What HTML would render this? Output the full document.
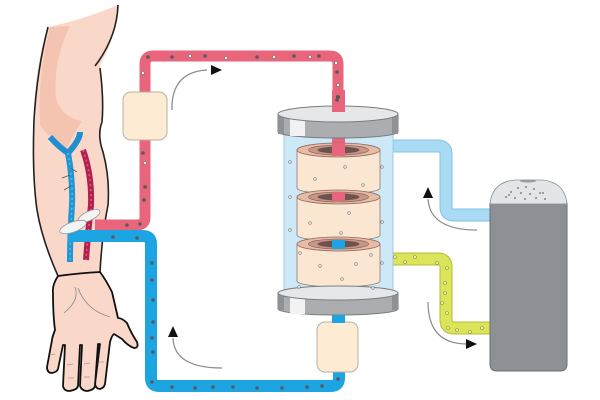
<!DOCTYPE html>
<html><head><meta charset="utf-8"><style>
html,body{margin:0;padding:0;background:#fff;}
svg{display:block;}
</style></head><body>
<svg width="600" height="400" viewBox="0 0 600 400" xmlns="http://www.w3.org/2000/svg">
<rect width="600" height="400" fill="#fff"/>
<!-- ARM -->
<path d="M48,27 Q82,20 118,5 Q117,35 100,65 Q104,100 101,125 Q97,137 104,152 Q110,178 107,205 Q102,235 100,272 Q80,274 58,276 Q46,250 40,225 Q33,190 33,140 Q33,70 48,27 Z" fill="#fad8c9"/>
<path d="M50,27 L70,26 Q53,60 56,98 Q61,117 82,121 Q73,135 67,148 Q46,136 40,125 Q37,80 50,27 Z" fill="#f5c4b0"/>
<path d="M48,27 Q37,70 34,120 Q32,175 37,210 Q42,240 58,276" fill="none" stroke="#222" stroke-width="1.6"/>
<path d="M118,5 Q117,35 98,62 L95,66" fill="none" stroke="#222" stroke-width="1.6"/>
<path d="M100,68 Q104,100 102,122 Q97,135 103,152 Q110,178 108,205 Q102,235 100,272" fill="none" stroke="#222" stroke-width="1.6"/>
<!-- vein -->
<path d="M50,137 Q60,148 68,153 Q80,140 80,132" fill="none" stroke="#1f8fd0" stroke-width="6"/>
<path d="M68,153 Q73,180 72,205 Q70,235 70,262" fill="none" stroke="#1f97d6" stroke-width="6"/>
<path d="M68,153 Q73,180 72,205 Q70,235 70,262" fill="none" stroke="#5bb8e6" stroke-width="1.5" stroke-dasharray="2 3"/>
<path d="M62,178 L70,175 M64,190 L71,186 M70,168 L77,172" stroke="#555" stroke-width="0.8"/>
<!-- artery -->
<path d="M83,150 Q92,175 91,205 Q88,232 86,260" fill="none" stroke="#b3204f" stroke-width="6"/>
<path d="M83,150 Q92,175 91,205 Q88,232 86,260" fill="none" stroke="#e0607f" stroke-width="1.5" stroke-dasharray="2 3"/>
<!-- HAND -->
<path d="M58,276 Q52,285 53,293 Q53,315 55,330 Q52,338 52,340 L47,367 Q47,373 52,373 Q57,372 58,369 L63,345 L65,345 L63,386 Q64,391 69,391 Q77,390 78,386 L80,345 L82,345 L80,386 Q82,391 87,391 Q94,390 95,386 L98,344 L100,344 L95,384 Q96,389 100,389 Q104,388 105,384 L110,342 Q112,335 114,334 L122,339 Q128,346 134,348 Q139,348 137,342 Q131,333 127,323 Q122,318 118,318 Q115,305 112,292 Q106,280 100,272 Q80,273 58,276 Z" fill="#fad8c9" stroke="#111" stroke-width="1.8" stroke-linejoin="round"/>
<path d="M75,287 Q80,300 64,313 M78,288 Q86,310 110,317" fill="none" stroke="#888" stroke-width="0.8"/>
<path d="M51,355 L55,354 M67,365 L73,364 M84,364 L90,363 M99,362 L104,362 M68,378 L74,378 M84,377 L90,377" stroke="#999" stroke-width="0.7"/>

<!-- RED TUBE -->
<path d="M95,225 H137 Q145,225 145,217 V64 Q145,56 153,56 H330 Q338,56 338,64 V114" fill="none" stroke="#e8657c" stroke-width="11"/>
<!-- BLUE TUBE -->
<path d="M68,236 H143 Q151,236 151,244 V378 Q151,386 159,386 H331 Q339,386 339,378 V360" fill="none" stroke="#1ca5e2" stroke-width="12"/>
<!-- tape -->
<ellipse cx="89" cy="216" rx="12" ry="4.5" transform="rotate(-25 89 216)" fill="#f4f4f4" stroke="#999" stroke-width="0.8"/>
<ellipse cx="73" cy="227" rx="14" ry="5" transform="rotate(-20 73 227)" fill="#f4f4f4" stroke="#999" stroke-width="0.8"/>

<!-- LIGHT BLUE TUBE -->
<path d="M392,146 H438 Q446,146 446,154 V207 Q446,215 454,215 H492" fill="none" stroke="#7fc4e6" stroke-width="13"/>
<path d="M392,146 H438 Q446,146 446,154 V207 Q446,215 454,215 H492" fill="none" stroke="#a9dbf4" stroke-width="11"/>
<!-- YELLOW TUBE -->
<path d="M392,259 H438 Q446,259 446,267 V320 Q446,328 454,328 H492" fill="none" stroke="#b5bb3a" stroke-width="13"/>
<path d="M392,259 H438 Q446,259 446,267 V320 Q446,328 454,328 H492" fill="none" stroke="#dce45a" stroke-width="11"/>

<!-- BAGS -->
<rect x="123" y="92" width="44" height="48" rx="8" fill="#fdebd3" stroke="#b9b0a2" stroke-width="1"/>
<rect x="317" y="322" width="41" height="50" rx="8" fill="#fdebd3" stroke="#b9b0a2" stroke-width="1"/>

<!-- COLUMN -->
<rect x="284" y="128" width="109" height="166" fill="#cde9f8" stroke="#9ccbe3" stroke-width="1"/>
<rect x="332" y="90" width="13" height="26" fill="#e8657c"/>
<rect x="332" y="134" width="13" height="22" fill="#e8657c"/>
<!-- top cap -->
<path d="M278,114 V132 A60,6 0 0 0 398,132 V114 Z" fill="#abadb0" stroke="#7a7c80" stroke-width="1"/>
<rect x="290" y="116" width="15" height="20" fill="#f2f2f2"/>
<rect x="278" y="116" width="6" height="18" fill="#8f9195"/>
<rect x="392" y="116" width="6" height="18" fill="#8f9195"/>
<ellipse cx="338" cy="114" rx="60" ry="8" fill="#e6e7e8" stroke="#7a7c80" stroke-width="1"/>
<rect x="332" y="90" width="13" height="22" fill="#e8657c"/>
<circle cx="338" cy="97" r="2" fill="#555"/>

<!-- DISC 1 -->
<path d="M297,150 V188 A41.5,6 0 0 0 380,188 V150 Z" fill="#fbe6d1" stroke="#8a7a70" stroke-width="0.8"/>
<ellipse cx="338.5" cy="150" rx="41.5" ry="7" fill="#e8bba6" stroke="#8a6a60" stroke-width="0.8"/>
<ellipse cx="338.5" cy="150" rx="30" ry="5" fill="#c99584" stroke="#7a5a55" stroke-width="0.6"/>
<ellipse cx="338.5" cy="150" rx="21" ry="3.5" fill="#6e524e"/>
<rect x="332" y="143" width="13" height="13" fill="#e8657c"/>
<!-- DISC 2 -->
<path d="M297,197 V235 A41.5,6 0 0 0 380,235 V197 Z" fill="#fbe6d1" stroke="#8a7a70" stroke-width="0.8"/>
<ellipse cx="338.5" cy="197" rx="41.5" ry="7" fill="#e8bba6" stroke="#8a6a60" stroke-width="0.8"/>
<ellipse cx="338.5" cy="197" rx="30" ry="5" fill="#c99584" stroke="#7a5a55" stroke-width="0.6"/>
<ellipse cx="338.5" cy="197" rx="21" ry="3.5" fill="#6e524e"/>
<rect x="332" y="192" width="13" height="9" fill="#e8657c"/>
<!-- DISC 3 -->
<path d="M297,244 V281 A41.5,6 0 0 0 380,281 V244 Z" fill="#fbe6d1" stroke="#8a7a70" stroke-width="0.8"/>
<ellipse cx="338.5" cy="244" rx="41.5" ry="7" fill="#e8bba6" stroke="#8a6a60" stroke-width="0.8"/>
<ellipse cx="338.5" cy="244" rx="30" ry="5" fill="#c99584" stroke="#7a5a55" stroke-width="0.6"/>
<ellipse cx="338.5" cy="244" rx="21" ry="3.5" fill="#6e524e"/>
<rect x="332" y="240" width="13" height="9" fill="#1ca5e2"/>
<rect x="332" y="286" width="13" height="8" fill="#1ca5e2"/>
<!-- bottom cap -->
<path d="M278,293 V309 A60,6 0 0 0 398,309 V293 Z" fill="#abadb0" stroke="#7a7c80" stroke-width="1"/>
<rect x="290" y="296" width="15" height="18" fill="#f2f2f2"/>
<rect x="278" y="295" width="6" height="15" fill="#8f9195"/>
<rect x="392" y="295" width="6" height="15" fill="#8f9195"/>
<ellipse cx="338" cy="293" rx="60" ry="7" fill="#e6e7e8" stroke="#7a7c80" stroke-width="1"/>
<rect x="332" y="315" width="13" height="8" fill="#1ca5e2"/>

<!-- GRAY CYLINDER -->
<path d="M490,203 V364 Q490,371 497,371 H560 Q567,371 567,364 V203 Z" fill="#8d9196" stroke="#6a6d72" stroke-width="1"/>
<path d="M490,204 Q492,182 515,180 H542 Q565,182 567,204 Z" fill="#e4e5e6" stroke="#8a8c90" stroke-width="0.8"/>
<ellipse cx="528" cy="181" rx="8" ry="1.5" fill="#9a9ca0"/>
<g fill="#666">
<circle cx="518" cy="188" r="0.9"/><circle cx="526" cy="187" r="0.9"/><circle cx="534" cy="189" r="0.9"/><circle cx="511" cy="192" r="0.9"/><circle cx="521" cy="193" r="0.9"/><circle cx="530" cy="194" r="0.9"/><circle cx="540" cy="193" r="0.9"/><circle cx="506" cy="197" r="0.9"/><circle cx="515" cy="198" r="0.9"/><circle cx="525" cy="199" r="0.9"/><circle cx="536" cy="198" r="0.9"/><circle cx="545" cy="199" r="0.9"/><circle cx="509" cy="195" r="0.9"/><circle cx="543" cy="193" r="0.9"/>
</g>

<!-- DOTS dark -->
<g fill="#5a5a5e">
<circle cx="148" cy="57" r="1.8"/><circle cx="172" cy="57" r="1.8"/><circle cx="205" cy="56" r="1.8"/><circle cx="257" cy="57" r="1.8"/><circle cx="294" cy="56" r="1.8"/><circle cx="319" cy="56" r="1.8"/><circle cx="337" cy="72" r="1.8"/><circle cx="337" cy="100" r="1.8"/>
<circle cx="143" cy="153" r="1.8"/><circle cx="145" cy="187" r="1.8"/><circle cx="144" cy="200" r="1.8"/><circle cx="140" cy="224" r="1.8"/><circle cx="127" cy="225" r="1.8"/>
<circle cx="113" cy="237" r="1.8"/><circle cx="137" cy="238" r="1.8"/>
<circle cx="152" cy="263" r="1.8"/><circle cx="152" cy="280" r="1.8"/><circle cx="153" cy="300" r="1.8"/><circle cx="153" cy="322" r="1.8"/><circle cx="152" cy="338" r="1.8"/><circle cx="153" cy="352" r="1.8"/><circle cx="152" cy="382" r="1.8"/>
<circle cx="172" cy="387" r="1.8"/><circle cx="195" cy="388" r="1.8"/><circle cx="213" cy="387" r="1.8"/><circle cx="233" cy="387" r="1.8"/><circle cx="257" cy="388" r="1.8"/><circle cx="282" cy="388" r="1.8"/><circle cx="307" cy="387" r="1.8"/><circle cx="322" cy="386" r="1.8"/><circle cx="338" cy="379" r="1.8"/>
</g>
<!-- DOTS light -->
<g fill="#f6f6f6" stroke="#777" stroke-width="0.6">
<circle cx="190" cy="56" r="1.5"/><circle cx="226" cy="58" r="1.5"/><circle cx="274" cy="57" r="1.5"/><circle cx="310" cy="57" r="1.5"/><circle cx="336" cy="63" r="1.5"/><circle cx="338" cy="85" r="1.5"/>
<circle cx="143" cy="73" r="1.5"/><circle cx="145" cy="163" r="1.5"/>
<circle cx="290" cy="162" r="1.3"/><circle cx="290" cy="197" r="1.3"/><circle cx="290" cy="230" r="1.3"/><circle cx="299" cy="287" r="1.3"/><circle cx="382" cy="167" r="1.3"/><circle cx="382" cy="222" r="1.3"/><circle cx="382" cy="263" r="1.3"/><circle cx="373" cy="288" r="1.3"/>
<circle cx="345" cy="167" r="1.3"/><circle cx="315" cy="179" r="1.3"/><circle cx="363" cy="185" r="1.3"/><circle cx="349" cy="213" r="1.3"/><circle cx="310" cy="223" r="1.3"/><circle cx="341" cy="233" r="1.3"/><circle cx="300" cy="253" r="1.3"/><circle cx="371" cy="255" r="1.3"/><circle cx="320" cy="266" r="1.3"/><circle cx="356" cy="264" r="1.3"/><circle cx="342" cy="279" r="1.3"/>
</g>
<g fill="#eef2a0" stroke="#8a8c50" stroke-width="0.6">
<circle cx="395" cy="257" r="1.5"/><circle cx="405" cy="262" r="1.5"/><circle cx="415" cy="257" r="1.5"/><circle cx="437" cy="263" r="1.5"/><circle cx="447" cy="268" r="1.5"/><circle cx="445" cy="283" r="1.5"/><circle cx="445" cy="293" r="1.5"/><circle cx="442" cy="303" r="1.5"/><circle cx="447" cy="313" r="1.5"/><circle cx="448" cy="328" r="1.5"/><circle cx="457" cy="330" r="1.5"/><circle cx="470" cy="332" r="1.5"/><circle cx="482" cy="328" r="1.5"/>
</g>

<!-- ARROWS -->
<g fill="none" stroke="#8a8a8a" stroke-width="1.2">
<path d="M172,110 Q171,72 207,70"/>
<path d="M222,368 Q174,368 173,338"/>
<path d="M477,230 Q430,230 428,199"/>
<path d="M428,302 Q428,344 467,344"/>
</g>
<g fill="#111">
<polygon points="211,65 222,70 211,75"/>
<polygon points="168,337 173,326 178,337"/>
<polygon points="423,198 428,187 433,198"/>
<polygon points="466,339 477,344 466,349"/>
</g>
</svg>
</body></html>
